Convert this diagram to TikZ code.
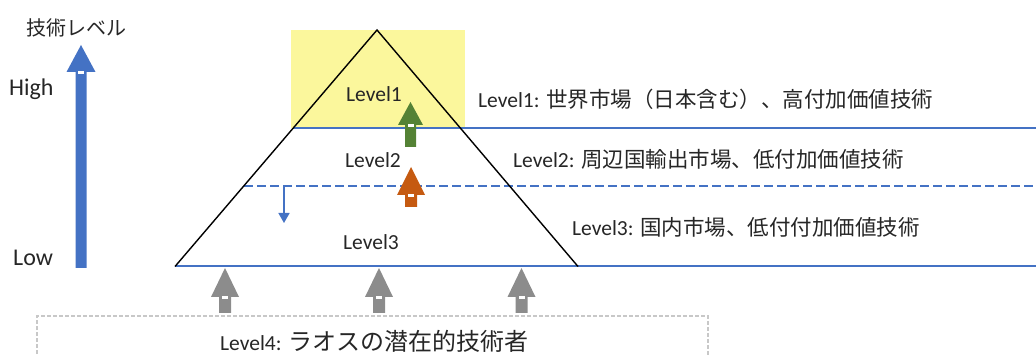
\documentclass[tikz,border=0pt]{standalone}
\usepackage{fontspec}
\setmainfont{Carlito}
\newfontfamily\jp{Noto Sans CJK JP}
\usetikzlibrary{arrows.meta}
\definecolor{oblue}{HTML}{4472C4}
\definecolor{ogreen}{HTML}{548235}
\definecolor{oorange}{HTML}{C55A11}
\definecolor{ogray}{HTML}{8C8C8C}
\definecolor{oyellow}{HTML}{FBF79C}
\definecolor{boxgray}{HTML}{C8C8C8}
% block arrow: center x, tip y, head base y, bottom y, head half width, shaft half width, colour
\newcommand\blockarr[7]{%
  \fill[#7] (#1-#6,#4) -- (#1-#6,#3) -- (#1-#5,#3) -- (#1,#2) -- (#1+#5,#3) -- (#1+#6,#3) -- (#1+#6,#4) -- cycle;
  \fill[white] (#1-3,#3-1) rectangle (#1+3,#3+2.5);
}
\tikzset{
  txt/.style={inner sep=0pt, font=\fontsize{21.5}{24}\selectfont, text=black!85},
  lvl/.style={draw=oblue, line width=2.8pt},
}
\begin{document}
\begin{tikzpicture}[x=1pt,y=-1pt]
\useasboundingbox (0,0) rectangle (1036,355);
% yellow highlight
\fill[oyellow] (291,30) rectangle (465,128);
% pyramid corners
\coordinate (apex) at (377,30);
\coordinate (bl) at (175,266.5);
\coordinate (br) at (578,266.5);
% level boundary lines
\draw[lvl] (293,128) -- (1036,128);
\draw[lvl, dash pattern=on 9pt off 4pt] (244,186) -- (1036,186);
\draw[draw=oblue, line width=2pt] (bl) -- (1036,266.5);
% pyramid sides
\draw[black, line width=1.4pt] (bl) -- (apex) -- (br);
% small down arrow
\coordinate (dstart) at (284,186);
\coordinate (dend) at (284,223);
\draw[oblue, line width=1.6pt, -{Triangle[width=11pt,length=10pt]}] (dstart) -- (dend);
% block arrows
\blockarr{81}{45}{72}{268}{14.5}{5.5}{oblue}
\blockarr{410.5}{102}{125}{147}{12.5}{5.5}{ogreen}
\blockarr{411}{167}{195}{207}{14}{6}{oorange}
\blockarr{225}{268}{297}{313}{14}{6}{ogray}
\blockarr{379}{268}{297}{313}{14}{6}{ogray}
\blockarr{521.5}{268}{297}{313}{14}{6}{ogray}
% Level4 dashed box
\draw[boxgray, line width=2pt, dash pattern=on 4pt off 2pt] (37,360) -- (37,316) -- (708,316) -- (708,360);
% texts
\node[txt, anchor=center] (axis) at (76,28) {\jp\fontsize{20}{24}\selectfont 技術レベル};
\node[txt, anchor=base west, font=\fontsize{24}{26}\selectfont] (high) at (9,96) {High};
\node[txt, anchor=base west, font=\fontsize{24}{26}\selectfont] (low) at (13,266) {Low};
\node[txt, anchor=base] (p1) at (374,102) {Level1};
\node[txt, anchor=base] (p2) at (373,168) {Level2};
\node[txt, anchor=base] (p3) at (371,250) {Level3};
\node[txt, anchor=base west] (t1) at (478,108) {Level1: {\jp\fontsize{21.5}{24}\selectfont 世界市場（日本含む）、高付加価値技術}};
\node[txt, anchor=base west] (t2) at (513,168) {Level2: {\jp\fontsize{21.5}{24}\selectfont 周辺国輸出市場、低付加価値技術}};
\node[txt, anchor=base west] (t3) at (572,236) {Level3: {\jp\fontsize{21.5}{24}\selectfont 国内市場、低付付加価値技術}};
\node[txt, anchor=base west] (t4) at (220,350) {Level4: {\jp\fontsize{24}{26}\selectfont ラオスの潜在的技術者}};
\end{tikzpicture}
\end{document}
